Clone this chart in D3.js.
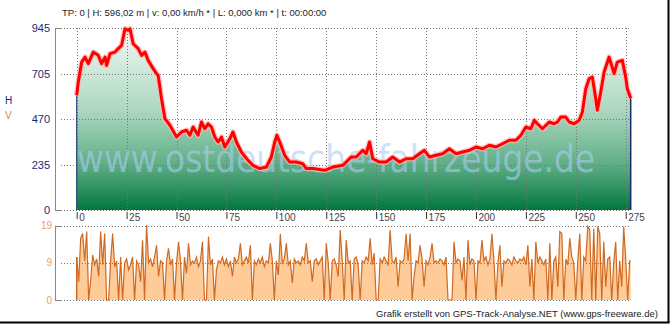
<!DOCTYPE html>
<html>
<head>
<meta charset="utf-8">
<script src="https://cdn.jsdelivr.net/npm/d3@7"></script>
<style>
  body { margin: 0; background: #fff; }
  svg { display: block; font-family: "Liberation Sans", Arial, sans-serif; }
</style>
</head>
<body>
<div id="chart"></div>
<script>
// elevation profile, km -> metres
var elevKm = [0, 0.8, 2.5, 4.2, 5.8, 8.3, 10.8, 12.5, 14.2, 15, 16.7, 19.2, 20.8, 22.5, 24.2, 25.8, 26.7,
  28.3, 30.8, 32.5, 34.2, 35.8, 38.3, 40, 40.8, 42.5, 44.2, 46.7, 50, 52.5, 55, 56.7, 58.3, 60.8,
  62.5, 64.2, 65.8, 67.5, 69.2, 70.8, 72.5, 74.2, 76.7, 78.3, 80, 82.5, 85.8, 88.3, 91.7, 95, 97.5,
  99.2, 100.3, 101.7, 104.2, 106.7, 110, 113.3, 115, 118.3, 124.2, 128.3, 133.3, 137.5, 140, 143.3,
  145, 146.7, 148.3, 151.7, 155, 158.3, 161.7, 165, 168.3, 171.7, 174.2, 176.7, 180, 183.3, 186.7,
  190, 193.3, 196.7, 200, 203.3, 206.7, 210, 213.3, 216.7, 220, 222.5, 225, 227.5, 229.2, 230.8,
  233.3, 236.7, 239.2, 240.8, 242.5, 245, 246.7, 249.2, 251.7, 253.3, 255, 256.7, 258.3, 260,
  260.8, 262.5, 264.2, 266.7, 269.2, 270.8, 273.3, 275, 275.8, 277.5];
var elevM = [596, 665, 768, 794, 760, 820, 803, 760, 794, 751, 812, 820, 838, 855, 941, 933, 941,
  863, 838, 803, 820, 777, 734, 708, 699, 578, 474, 440, 379, 405, 414, 388, 431, 388,
  457, 422, 448, 431, 379, 353, 379, 327, 370, 405, 353, 301, 258, 232, 215, 223, 275,
  353, 388, 353, 284, 249, 249, 240, 215, 215, 206, 223, 232, 275, 275, 310,
  292, 353, 266, 249, 249, 275, 249, 266, 266, 292, 310, 275, 284, 292, 318,
  292, 301, 310, 327, 318, 336, 327, 344, 362, 362, 388, 431, 422, 466, 448,
  422, 457, 448, 457, 483, 483, 457, 448, 466, 509, 630, 682, 690, 578,
  518, 613, 717, 794, 708, 768, 777, 690, 630, 580];

// speed in km/h, one value per km (0..277)
var speedV = [
  11, 4.7, 15.8, 17, 10, 17.5, 0, 5, 11.5, 9,
  10.5, 6, 17.5, 9, 17, 0, 0, 10, 17, 8.5,
  10, 0, 11, 0, 9.5, 10.5, 7.7, 9, 11, 0,
  10, 9, 4.7, 15.3, 0, 19.2, 9.5, 10.5, 8.5, 11,
  14, 6, 10, 9.5, 0, 10, 13.2, 9, 10.5, 0,
  9.5, 14.9, 10, 0, 11, 6.8, 14.5, 9, 10, 9.5,
  11, 8.5, 10, 14.9, 0, 0, 16.2, 9, 10.5, 0,
  7.7, 10, 9.5, 11, 9, 10.5, 8.5, 10, 6, 11,
  9.5, 10.5, 14.5, 9, 10, 11, 9.5, 14, 0, 10,
  9, 10.5, 9.5, 11, 8.5, 10, 9.5, 14.5, 10, 0,
  10, 6.4, 16.9, 9.5, 10.5, 14.5, 9, 10, 4.3, 10.5,
  9.5, 10, 9, 11, 10, 14.5, 9.5, 10, 4.7, 10,
  10.5, 9, 10, 11, 0, 14.5, 9.5, 0, 10, 10.5,
  9, 6, 17.9, 10, 0, 15.3, 9.5, 10, 0, 10.5,
  11, 9, 0, 10, 9.5, 11, 10, 15.8, 9, 12,
  0, 0, 10.5, 9.5, 11, 10, 9, 17.9, 10, 9.5,
  11, 3.4, 10, 9.5, 10.5, 16.9, 10, 17, 0, 6,
  10, 9.5, 14, 10.5, 3.4, 10, 9, 11, 14.5, 9.5,
  10, 9.5, 10.5, 10, 9, 11, 0, 0, 0, 14.9,
  9.5, 10.5, 10, 5, 11, 0, 15.3, 9, 10.5, 10,
  0, 10, 9.5, 15.3, 10, 11, 9, 10.5, 16.9, 10,
  0, 9.5, 14, 3.4, 10, 9.5, 10.5, 10, 9, 11,
  10, 9.5, 10.5, 10, 11, 9, 14, 3.4, 10.5, 0,
  14.9, 9.5, 11, 10, 9, 10.5, 0, 14.5, 0, 10,
  11, 3.4, 17.5, 17, 0, 10.5, 9, 15.8, 11, 9.5,
  0, 10, 17, 0, 11, 10, 18.8, 17.9, 0, 18.3,
  0, 18.8, 17, 0, 14.9, 3.4, 10.5, 11, 0, 9.5,
  14.9, 0, 10, 3.4, 18.8, 10.5, 0, 10];

var xTicks = [0, 25, 50, 75, 100, 125, 150, 175, 200, 225, 250, 275];
var hTicks = [0, 235, 470, 705, 945];
var vTicks = [0, 9.5, 19];
var vTickLabels = ['0', '9', '19'];

var headerText = 'TP: 0 | H: 596,02 m | v: 0,00 km/h * | L: 0,000 km * | t: 00:00:00';
var footerText = 'Grafik erstellt von GPS-Track-Analyse.NET (www.gps-freeware.de)';
var watermark = 'www.ostdeutsche-fahrzeuge.de';

var width = 670, height = 325;
var svg = d3.select('#chart').append('svg').attr('width', width).attr('height', height);

var axisX = 55, plotRight = 630;
var x = d3.scaleLinear().domain([0, 275]).range([76.7, 625.7]);
var yH = d3.scaleLinear().domain([0, 945]).range([210, 28]);
var yV = d3.scaleLinear().domain([0, 19]).range([300, 225.7]);

var elev = elevKm.map(function(k, i) { return [k, elevM[i]]; });
var speed = speedV.map(function(v, i) { return [i, v]; });
var lastKm = elevKm[elevKm.length - 1];
speed.push([lastKm, speedV[speedV.length - 1]]);

// gradient for the elevation fill
var defs = svg.append('defs');
var grad = defs.append('linearGradient').attr('id', 'hgrad')
  .attr('gradientUnits', 'userSpaceOnUse')
  .attr('x1', 0).attr('x2', 0).attr('y1', yH(945)).attr('y2', yH(0));
grad.append('stop').attr('offset', '0%').attr('stop-color', '#f2f9f5');
grad.append('stop').attr('offset', '45%').attr('stop-color', '#acd8c0');
grad.append('stop').attr('offset', '75%').attr('stop-color', '#5fae86');
grad.append('stop').attr('offset', '100%').attr('stop-color', '#00773e');

// ---- top panel ----
var area = d3.area().x(function(d) { return x(d[0]); }).y0(yH(0)).y1(function(d) { return yH(d[1]); });
svg.append('path').datum(elev).attr('d', area).attr('fill', 'url(#hgrad)');

// grid
var gridColor = '#777';
svg.append('g').selectAll('line').data(hTicks).enter().append('line')
  .attr('x1', axisX + 6).attr('x2', plotRight)
  .attr('y1', function(d) { return Math.round(yH(d)) + 0.5; })
  .attr('y2', function(d) { return Math.round(yH(d)) + 0.5; })
  .attr('stroke', gridColor).attr('stroke-dasharray', '1,2');
svg.append('g').selectAll('line').data(xTicks).enter().append('line')
  .attr('x1', function(d) { return Math.round(x(d)) + 0.5; })
  .attr('x2', function(d) { return Math.round(x(d)) + 0.5; })
  .attr('y1', yH(945)).attr('y2', yH(0))
  .attr('stroke', gridColor).attr('stroke-dasharray', '1,2');

// watermark
svg.append('text').attr('x', 77).attr('y', 172)
  .attr('textLength', 518).attr('lengthAdjust', 'spacingAndGlyphs')
  .style('font-family', '"DejaVu Sans", sans-serif').style('font-size', '37px')
  .attr('fill', '#aecbf2').attr('fill-opacity', 0.62)
  .text(watermark);

// side edges of the profile
svg.append('line').attr('x1', x(0)).attr('x2', x(0)).attr('y1', yH(elevM[0])).attr('y2', yH(0))
  .attr('stroke', '#1a2a70').attr('stroke-width', 1);
svg.append('line').attr('x1', x(lastKm)).attr('x2', x(lastKm))
  .attr('y1', yH(elevM[elevM.length - 1])).attr('y2', yH(0))
  .attr('stroke', '#1a2a70').attr('stroke-width', 1.5);

// red line with soft glow
var line = d3.line().x(function(d) { return x(d[0]); }).y(function(d) { return yH(d[1]); });
svg.append('path').datum(elev).attr('d', line).attr('fill', 'none')
  .attr('stroke', '#ffb8b8').attr('stroke-width', 5.5).attr('stroke-linejoin', 'round').attr('opacity', 0.8);
svg.append('path').datum(elev).attr('d', line).attr('fill', 'none')
  .attr('stroke', '#ff0000').attr('stroke-width', 3).attr('stroke-linejoin', 'round');

// left axis
svg.append('line').attr('x1', axisX + 0.5).attr('x2', axisX + 0.5).attr('y1', yH(945)).attr('y2', yH(0) + 0.5)
  .attr('stroke', '#888');
svg.append('g').selectAll('line').data([0, 945]).enter().append('line')
  .attr('x1', axisX).attr('x2', axisX + 6)
  .attr('y1', function(d) { return Math.round(yH(d)) + 0.5; })
  .attr('y2', function(d) { return Math.round(yH(d)) + 0.5; })
  .attr('stroke', '#888');
svg.append('g').selectAll('text').data(hTicks).enter().append('text')
  .attr('x', 50).attr('y', function(d) { return yH(d) + 4; })
  .attr('text-anchor', 'end').attr('fill', '#1c2878').style('font-size', '11px')
  .text(function(d) { return d; });

// bottom x axis (tick to the left of each label)
var xAxis = d3.axisBottom(x).tickValues(xTicks).tickSize(7).tickSizeOuter(0);
var gx = svg.append('g').attr('transform', 'translate(0,212)').call(xAxis);
gx.select('.domain').remove();
gx.selectAll('.tick line').attr('stroke', '#333');
gx.selectAll('.tick text').attr('text-anchor', 'start').attr('x', 2).attr('y', 0).attr('dy', '0.85em')
  .attr('fill', '#444').style('font-size', '10px').style('font-family', '"Liberation Sans", Arial, sans-serif');

// axis titles
svg.append('text').attr('x', 5).attr('y', 104).attr('fill', '#1c2878').style('font-size', '10px').text('H');
svg.append('text').attr('x', 5).attr('y', 119).attr('fill', '#d08a48').style('font-size', '10px').text('V');

// ---- bottom panel (speed) ----
var vArea = d3.area().x(function(d) { return x(d[0]); }).y0(yV(0)).y1(function(d) { return yV(d[1]); });
svg.append('path').datum(speed).attr('d', vArea).attr('fill', '#ffcc99');
svg.append('g').selectAll('line').data(vTicks).enter().append('line')
  .attr('x1', axisX + 6).attr('x2', plotRight)
  .attr('y1', function(d) { return Math.round(yV(d)) + 0.5; })
  .attr('y2', function(d) { return Math.round(yV(d)) + 0.5; })
  .attr('stroke', gridColor).attr('stroke-dasharray', '1,2');
var vLine = d3.line().x(function(d) { return x(d[0]); }).y(function(d) { return yV(d[1]); });
svg.append('path').datum(speed).attr('d', vLine).attr('fill', 'none')
  .attr('stroke', '#cf6a22').attr('stroke-width', 1.2);
svg.append('line').attr('x1', x(0)).attr('x2', x(0)).attr('y1', yV(speedV[0])).attr('y2', yV(0))
  .attr('stroke', '#cf6a22').attr('stroke-width', 1.5);
svg.append('line').attr('x1', axisX + 0.5).attr('x2', axisX + 0.5).attr('y1', yV(19)).attr('y2', yV(0) + 0.5)
  .attr('stroke', '#888');
svg.append('g').selectAll('line').data([0, 19]).enter().append('line')
  .attr('x1', axisX).attr('x2', axisX + 6)
  .attr('y1', function(d) { return Math.round(yV(d)) + 0.5; })
  .attr('y2', function(d) { return Math.round(yV(d)) + 0.5; })
  .attr('stroke', '#888');
svg.append('g').selectAll('text').data(vTicks).enter().append('text')
  .attr('x', 52).attr('y', function(d) { return yV(d) + 3.5; })
  .attr('text-anchor', 'end').attr('fill', '#e3a468').style('font-size', '10px')
  .text(function(d, i) { return vTickLabels[i]; });

// header + footer
svg.append('text').attr('x', 62).attr('y', 16).attr('fill', '#222').style('font-size', '9.5px').text(headerText);
svg.append('text').attr('x', 658).attr('y', 317).attr('text-anchor', 'end')
  .attr('fill', '#222').style('font-size', '9.5px').text(footerText);

// frame shadow right / bottom
svg.append('line').attr('x1', 668.5).attr('x2', 668.5).attr('y1', 0).attr('y2', 323).attr('stroke', '#000').attr('stroke-width', 2);
svg.append('line').attr('x1', 0).attr('x2', 669.5).attr('y1', 322.5).attr('y2', 322.5).attr('stroke', '#000').attr('stroke-width', 2);
</script>
</body>
</html>
